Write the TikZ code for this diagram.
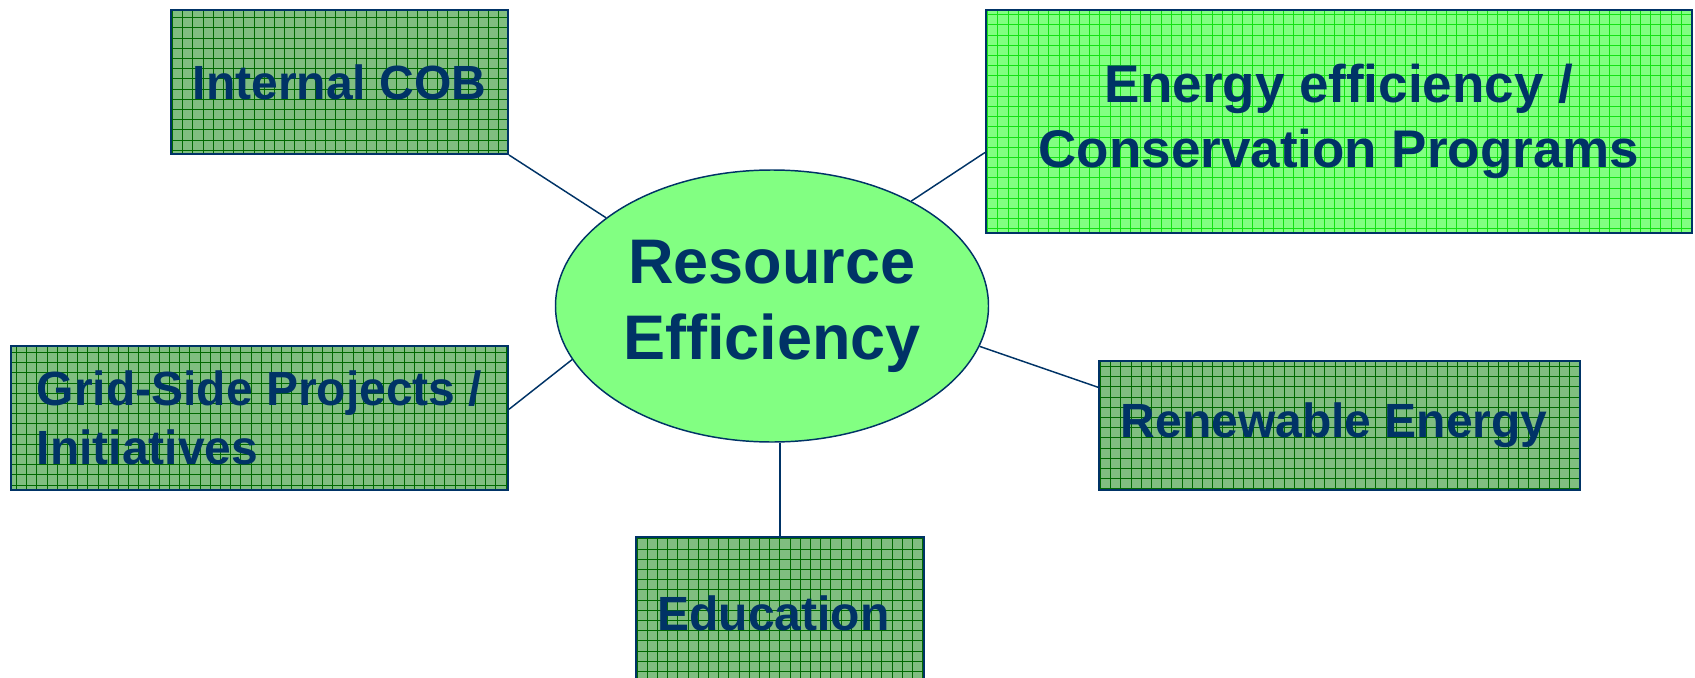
\documentclass[tikz,border=0pt]{standalone}
\usepackage{fontspec}
\setmainfont[Ligatures=NoCommon]{Liberation Sans}
\usetikzlibrary{shapes.geometric}

\definecolor{navyline}{RGB}{0,51,102}
\definecolor{darkfill}{RGB}{128,190,128}
\definecolor{darkgrid}{RGB}{0,105,0}
\definecolor{lightfill}{RGB}{130,255,130}
\definecolor{lightgrid}{RGB}{20,225,20}

\tikzset{
  topicbox/.style={draw=navyline, line width=1.5pt, fill=darkfill, inner sep=0pt,
    text=navyline, align=center, font=\fontsize{36}{44.25}\selectfont\bfseries,
    path picture={\draw [draw=darkgrid, line width=0.55pt] (path picture bounding box.south west) grid [step=7.65pt] (path picture bounding box.north east);}},
  lighttopicbox/.style={topicbox, fill=lightfill,
    path picture={\draw [draw=lightgrid, line width=0.55pt] (path picture bounding box.south west) grid [step=7.65pt] (path picture bounding box.north east);}},
  linkline/.style={draw=navyline, line width=1.1pt},
}

\begin{document}
\begin{tikzpicture}[x=0.75pt,y=0.75pt,yscale=-1,xscale=1]
\useasboundingbox (0,0) rectangle (1695,678);

%Shape: Ellipse
\node [ellipse, draw=navyline, line width=1.1pt, fill=lightfill, inner sep=0pt,
  minimum width=324.75pt, minimum height=204pt, text=navyline, align=center,
  font=\fontsize{47.25}{57}\selectfont\bfseries] (res) at (772,306) {Resource\\Efficiency};

%Shape: Rectangle
\node [topicbox, minimum width=252.75pt, minimum height=108pt] (cob) at (339.5,82) {Internal COB};
%Shape: Rectangle
\node [lighttopicbox, minimum width=529.5pt, minimum height=167.25pt,
  font=\fontsize{39.75}{48.75}\selectfont\bfseries] (eff) at (1339,121.5) {Energy efficiency /\\Conservation Programs};
%Shape: Rectangle
\node [topicbox, minimum width=372.75pt, minimum height=108pt, align=left] (grid) at (259.5,418) {Grid-Side Projects /\\Initiatives};
%Shape: Rectangle
\node [topicbox, minimum width=360.75pt, minimum height=96.75pt] (ren) at (1339.5,425.5) {Renewable Energy\hspace*{8pt}};
%Shape: Rectangle
\node [topicbox, minimum width=216pt, minimum height=114.75pt] (edu) at (780,613.5) {Education\hspace*{10pt}};

%Straight Lines
\draw [linkline] (cob.south east) -- (res.152);
%Straight Lines
\draw [linkline] (eff.185.3) -- (res.37);
%Straight Lines
\draw [linkline] (grid.2.1) -- (res.195.7);
%Straight Lines
\draw [linkline] (ren.171.8) -- (res.349);
%Straight Lines
\draw [linkline] (edu.north) -- (edu.north |- res.south);

\end{tikzpicture}
\end{document}
